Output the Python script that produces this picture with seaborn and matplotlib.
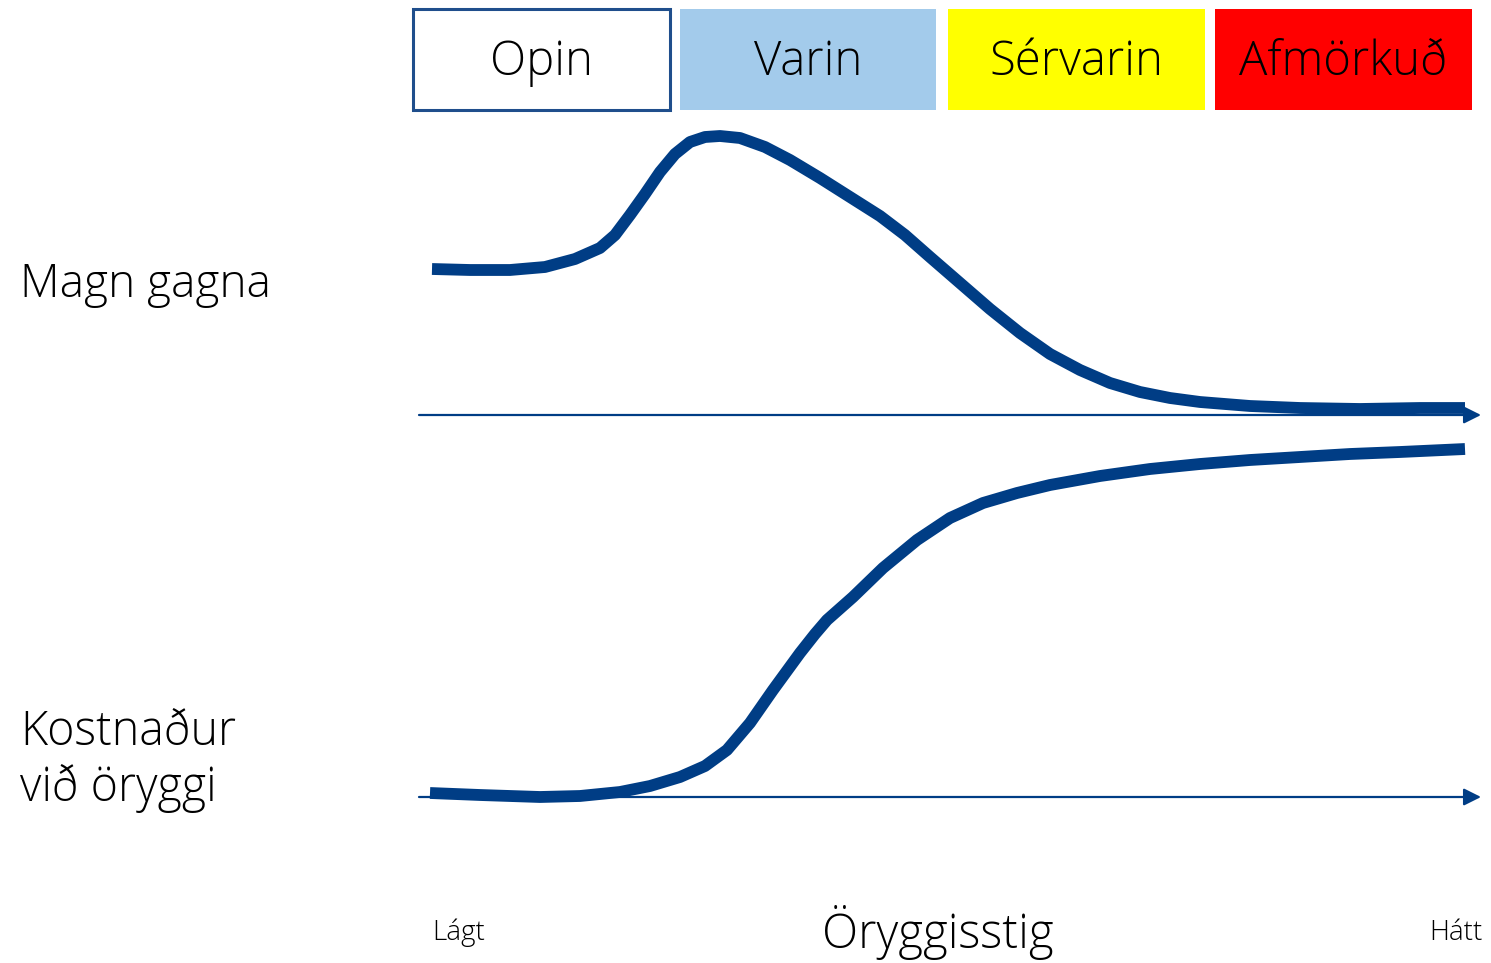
import matplotlib
matplotlib.use("Agg")
import matplotlib.pyplot as plt
import seaborn as sns
import pandas as pd
from matplotlib.patches import Rectangle

# ---- data (in picture units) ----
categories = ["Opin", "Varin", "Sérvarin", "Afmörkuð"]
cat_left = [413, 680, 948, 1215]
cat_right = [670, 936, 1205, 1472]
cat_colors = ["#ffffff", "#a3cbeb", "#ffff00", "#ff0000"]

magn_x = [432, 470, 510, 545, 575, 600, 615, 630, 645, 660, 675, 690, 705, 720,
          740, 765, 790, 820, 850, 880, 905, 930, 960, 990, 1020, 1050, 1080,
          1110, 1140, 1170, 1200, 1250, 1300, 1360, 1420, 1465]
magn_y = [269, 270, 270, 267, 259, 248, 235, 215, 194, 172, 154, 142, 137, 136,
          138, 147, 160, 178, 197, 216, 235, 257, 283, 309, 333, 354, 370,
          383, 392, 398, 402, 406, 408, 409, 408, 408]

kost_x = [430, 480, 540, 580, 620, 650, 680, 705, 727, 750, 773, 800, 815, 827,
          853, 883, 917, 950, 983, 1017, 1050, 1100, 1150, 1200, 1250, 1300,
          1350, 1400, 1465]
kost_y = [793, 795, 797, 796, 792, 786, 777, 766, 750, 723, 690, 653, 634, 620,
          597, 568, 540, 518, 503, 493, 485, 476, 469, 464, 460, 457,
          454, 452, 449]

axis_levels = [415, 797]
row_labels = ["Magn gagna", "Kostnaður\nvið öryggi"]
x_label = "Öryggisstig"
x_low, x_high = "Lágt", "Hátt"

BLUE = "#003d85"

sns.set_theme(style="white")
plt.rcParams["font.family"] = ["Open Sans", "DejaVu Sans"]

fig = plt.figure(figsize=(14.91, 9.63), dpi=100)
ax = fig.add_axes([0, 0, 1, 1])

# category boxes
for name, l, r, c in zip(categories, cat_left, cat_right, cat_colors):
    edge = "#1f4e8c" if c == "#ffffff" else c
    ax.add_patch(Rectangle((l, 9), r - l, 101, facecolor=c, edgecolor=edge,
                           lw=2.2 if c == "#ffffff" else 0, zorder=1))
    ax.text((l + r) / 2, 63, name, ha="center", va="center", fontsize=34,
            fontweight="light", color="black")

# axis arrows
for yl in axis_levels:
    ax.annotate("", xy=(1481, yl), xytext=(419, yl),
                arrowprops=dict(arrowstyle="-|>", color=BLUE, lw=1.6,
                                mutation_scale=26, shrinkA=0, shrinkB=0))

# curves
df = pd.concat([
    pd.DataFrame({"x": magn_x, "y": magn_y, "serie": "Magn gagna"}),
    pd.DataFrame({"x": kost_x, "y": kost_y, "serie": "Kostnaður"}),
])
sns.lineplot(data=df, x="x", y="y", hue="serie", palette=[BLUE, BLUE],
             sort=False, estimator=None, lw=8.5, legend=False, ax=ax,
             solid_capstyle="butt", solid_joinstyle="round", zorder=3)
ax.set_xlim(0, 1491)
ax.set_ylim(963, 0)
ax.axis("off")

# labels
ax.text(20, 285, row_labels[0], ha="left", va="center", fontsize=33,
        fontweight="light", color="black")
ax.text(20, 761, row_labels[1], ha="left", va="center", fontsize=33.5,
        fontweight="light", color="black", linespacing=1.2)
ax.text(938, 933, x_label, ha="center", va="center", fontsize=34,
        fontweight="light", color="black")
ax.text(432, 933, x_low, ha="left", va="center", fontsize=20,
        fontweight="light", color="black")
ax.text(1483, 933, x_high, ha="right", va="center", fontsize=20,
        fontweight="light", color="black")

fig.savefig("out.png", dpi=100)
